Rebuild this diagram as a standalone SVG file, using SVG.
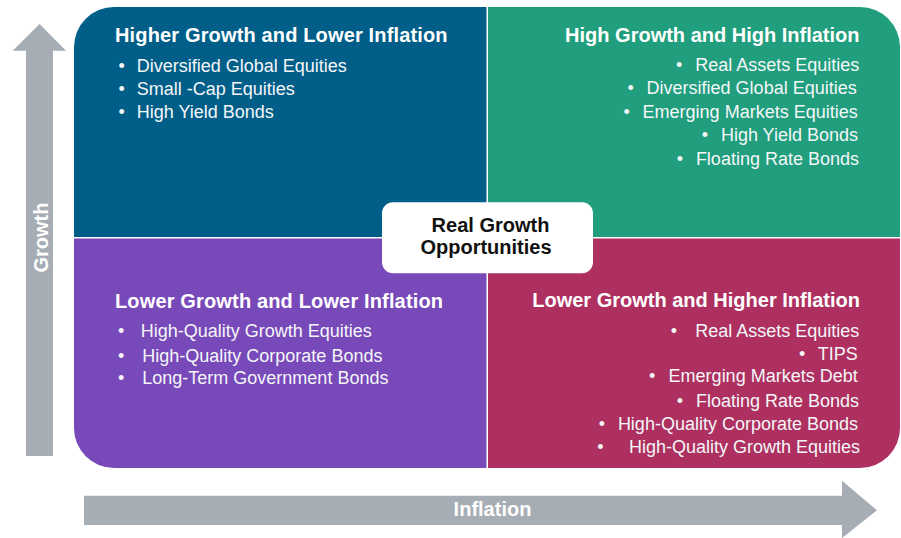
<svg xmlns="http://www.w3.org/2000/svg" width="901" height="538" viewBox="0 0 901 538">
<style>
.t{font-family:"Liberation Sans",Arial,sans-serif;font-weight:bold;font-size:20px;fill:#fff}
.l{letter-spacing:0.15px}
.i{font-family:"Liberation Sans",Arial,sans-serif;font-size:18px;fill:#F4F6F8}
.e{text-anchor:end}
.c{font-family:"Liberation Sans",Arial,sans-serif;font-weight:bold;font-size:20px;fill:#111;text-anchor:middle}
.ax{fill:#A7ADB4}
.axt{font-family:"Liberation Sans",Arial,sans-serif;font-weight:bold;font-size:20px;fill:#fff;text-anchor:middle}
</style>
<rect width="901" height="538" fill="#fff"/>
<g id="axes">
<polygon class="ax" points="26,456 26,50.7 12.7,50.7 39.5,24 66,50.7 53,50.7 53,456"/>
<text class="axt" transform="translate(47.5,237.5) rotate(-90)">Growth</text>
<polygon class="ax" points="84,495.7 842,495.7 842,480.7 877,510.3 842,538 842,525 84,525"/>
<text class="axt" x="492.5" y="516">Inflation</text>
</g>
<g id="q-higher-growth-lower-inflation">
<path d="M74,237 V47 A40,40 0 0 1 114,7 H486.5 V237 Z" fill="#005E89"/>
<text class="t l" x="115" y="41.7">Higher Growth and Lower Inflation</text>
<text class="i" x="118.5" y="71.5">•</text><text class="i" x="136.7" y="71.5">Diversified Global Equities</text>
<text class="i" x="118.5" y="94.5">•</text><text class="i" x="136.7" y="94.5">Small -Cap Equities</text>
<text class="i" x="118.5" y="118">•</text><text class="i" x="136.7" y="118">High Yield Bonds</text>
</g>
<g id="q-high-growth-high-inflation">
<path d="M488,7 H860 A40,40 0 0 1 900,47 V237 H488 Z" fill="#209E7D"/>
<text class="t e" x="859.5" y="41.7">High Growth and High Inflation</text>
<text class="i e" x="859.3" y="71"><tspan>•</tspan><tspan dx="12.8">Real Assets Equities</tspan></text>
<text class="i e" x="856.7" y="94.3"><tspan>•</tspan><tspan dx="12.8">Diversified Global Equities</tspan></text>
<text class="i e" x="857.7" y="118"><tspan>•</tspan><tspan dx="12.8">Emerging Markets Equities</tspan></text>
<text class="i e" x="858" y="141.3"><tspan>•</tspan><tspan dx="12.8">High Yield Bonds</tspan></text>
<text class="i e" x="859" y="164.7"><tspan>•</tspan><tspan dx="12.8">Floating Rate Bonds</tspan></text>
</g>
<g id="q-lower-growth-lower-inflation">
<path d="M74,238.5 H486.5 V468 H114 A40,40 0 0 1 74,428 Z" fill="#7849B8"/>
<text class="t l" x="115" y="308.3">Lower Growth and Lower Inflation</text>
<text class="i" x="117.9" y="337.3">•</text><text class="i" x="140.7" y="337.3">High-Quality Growth Equities</text>
<text class="i" x="117.9" y="361.7">•</text><text class="i" x="142.3" y="361.7">High-Quality Corporate Bonds</text>
<text class="i" x="117.9" y="384.3">•</text><text class="i" x="142.3" y="384.3">Long-Term Government Bonds</text>
</g>
<g id="q-lower-growth-higher-inflation">
<path d="M488,238.5 H900 V428 A40,40 0 0 1 860,468 H488 Z" fill="#AE3060"/>
<text class="t e" x="860" y="307.3">Lower Growth and Higher Inflation</text>
<text class="i e" x="859.3" y="337.3"><tspan>•</tspan><tspan dx="18.2">Real Assets Equities</tspan></text>
<text class="i e" x="857.7" y="360"><tspan>•</tspan><tspan dx="12.3">TIPS</tspan></text>
<text class="i e" x="857.7" y="382.3"><tspan>•</tspan><tspan dx="13.3">Emerging Markets Debt</tspan></text>
<text class="i e" x="859" y="407.3"><tspan>•</tspan><tspan dx="12.9">Floating Rate Bonds</tspan></text>
<text class="i e" x="858" y="430"><tspan>•</tspan><tspan dx="12.9">High-Quality Corporate Bonds</tspan></text>
<text class="i e" x="860" y="452.7"><tspan>•</tspan><tspan dx="25.3">High-Quality Growth Equities</tspan></text>
</g>
<g id="real-growth-opportunities">
<rect x="382" y="202.3" width="211" height="71" rx="11" fill="#fff"/>
<text class="c" x="490.5" y="231.7">Real Growth</text>
<text class="c" x="486" y="254">Opportunities</text>
</g>
</svg>
